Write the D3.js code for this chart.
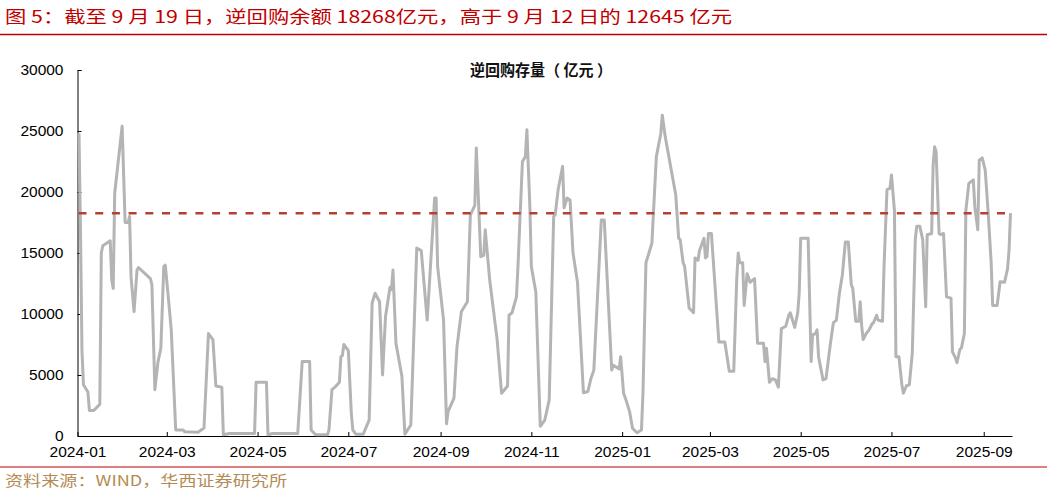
<!DOCTYPE html>
<html>
<head>
<meta charset="utf-8">
<script src="https://cdn.jsdelivr.net/npm/d3@7"></script>
<style>
  body { margin: 0; background: #fff; }
  svg { display: block; font-family: "Liberation Sans", Arial, "Noto Sans CJK SC", sans-serif; }
</style>
</head>
<body>
<div id="chart"></div>
<script>
// reverse repo balance, 100m yuan
const dates = [
  "2024-01-02","2024-01-03","2024-01-04","2024-01-05","2024-01-08","2024-01-09","2024-01-12","2024-01-16","2024-01-17","2024-01-18",
  "2024-01-23","2024-01-24","2024-01-25","2024-01-26","2024-01-31","2024-02-02","2024-02-04","2024-02-05","2024-02-06","2024-02-08",
  "2024-02-10","2024-02-11","2024-02-19","2024-02-20","2024-02-22","2024-02-24","2024-02-26","2024-02-28","2024-02-29","2024-03-02",
  "2024-03-04","2024-03-07","2024-03-12","2024-03-13","2024-03-22","2024-03-26","2024-03-29","2024-04-01","2024-04-03","2024-04-07",
  "2024-04-08","2024-04-12","2024-04-29","2024-04-30","2024-05-07","2024-05-08","2024-05-11","2024-05-28","2024-05-31","2024-06-05",
  "2024-06-06","2024-06-09","2024-06-17","2024-06-18","2024-06-20","2024-06-22","2024-06-25","2024-06-26","2024-06-27","2024-06-28",
  "2024-07-01","2024-07-03","2024-07-04","2024-07-06","2024-07-11","2024-07-15","2024-07-17","2024-07-19","2024-07-22","2024-07-24",
  "2024-07-26","2024-07-29","2024-07-30","2024-07-31","2024-08-02","2024-08-06","2024-08-08","2024-08-12","2024-08-16","2024-08-19",
  "2024-08-23","2024-08-26","2024-08-28","2024-08-29","2024-08-30","2024-09-03","2024-09-05","2024-09-06","2024-09-10","2024-09-12",
  "2024-09-15","2024-09-19","2024-09-21","2024-09-24","2024-09-25","2024-09-28","2024-09-30","2024-10-01","2024-10-04","2024-10-09",
  "2024-10-12","2024-10-16","2024-10-17","2024-10-19","2024-10-22","2024-10-23","2024-10-26","2024-10-28","2024-10-29","2024-10-31",
  "2024-11-01","2024-11-04","2024-11-07","2024-11-10","2024-11-13","2024-11-16","2024-11-17","2024-11-19","2024-11-22","2024-11-23",
  "2024-11-25","2024-11-27","2024-11-29","2024-12-02","2024-12-06","2024-12-09","2024-12-11","2024-12-13","2024-12-18","2024-12-20",
  "2024-12-25","2024-12-26","2024-12-30","2024-12-31","2025-01-02","2025-01-04","2025-01-06","2025-01-08","2025-01-11","2025-01-14",
  "2025-01-15","2025-01-17","2025-01-21","2025-01-24","2025-01-27","2025-01-28","2025-01-30","2025-02-06","2025-02-07","2025-02-08",
  "2025-02-09","2025-02-11","2025-02-12","2025-02-15","2025-02-18","2025-02-19","2025-02-21","2025-02-22","2025-02-25","2025-02-26",
  "2025-02-27","2025-02-28","2025-03-02","2025-03-06","2025-03-07","2025-03-11","2025-03-14","2025-03-17","2025-03-19","2025-03-20",
  "2025-03-21","2025-03-23","2025-03-24","2025-03-26","2025-03-28","2025-03-31","2025-04-02","2025-04-06","2025-04-07","2025-04-08",
  "2025-04-10","2025-04-12","2025-04-14","2025-04-16","2025-04-18","2025-04-21","2025-04-23","2025-04-24","2025-04-27","2025-04-29",
  "2025-04-30","2025-05-01","2025-05-06","2025-05-08","2025-05-09","2025-05-11","2025-05-12","2025-05-13","2025-05-16","2025-05-18",
  "2025-05-21","2025-05-23","2025-05-25","2025-05-27","2025-05-29","2025-05-31","2025-06-02","2025-06-04","2025-06-05","2025-06-07",
  "2025-06-09","2025-06-10","2025-06-11","2025-06-12","2025-06-14","2025-06-16","2025-06-18","2025-06-19","2025-06-21","2025-06-22",
  "2025-06-25","2025-06-26","2025-06-28","2025-06-30","2025-07-01","2025-07-03","2025-07-04","2025-07-06","2025-07-08","2025-07-09",
  "2025-07-11","2025-07-13","2025-07-15","2025-07-17","2025-07-18","2025-07-20","2025-07-22","2025-07-24","2025-07-25","2025-07-28",
  "2025-07-29","2025-07-30","2025-07-31","2025-08-02","2025-08-03","2025-08-05","2025-08-07","2025-08-10","2025-08-11","2025-08-13",
  "2025-08-14","2025-08-16","2025-08-17","2025-08-19","2025-08-20","2025-08-22","2025-08-25","2025-08-26","2025-08-28","2025-08-29",
  "2025-08-31","2025-09-02","2025-09-04","2025-09-06","2025-09-07","2025-09-10","2025-09-12","2025-09-15","2025-09-17","2025-09-18",
  "2025-09-19"
];
const balance = [
  24800,17000,7000,4200,3600,2100,2100,2600,15000,15600,
  16000,12800,12100,19900,25400,17500,17500,18000,13000,10200,
  13600,13800,12900,12400,3800,6000,7200,13900,14000,11400,
  8700,500,500,350,300,650,8400,7900,4100,4000,
  100,200,200,4400,4400,100,200,200,6100,6100,
  500,100,100,500,3800,4000,4400,6500,6600,7500,
  7000,1900,500,150,150,1300,10900,11700,11000,5000,
  9800,12200,12000,13600,7600,4900,150,900,15400,15200,
  9500,15500,19500,19500,13900,9500,1000,2000,3100,7300,
  10200,11000,18100,18900,23600,14700,14800,16900,12800,7900,
  3500,4100,9900,10100,11400,13900,22500,22900,25100,18800,
  13900,11800,800,1300,2950,18000,18100,20200,22100,18700,
  19500,19350,15000,12600,3550,3650,4700,5400,17700,17700,
  5400,5800,5500,6500,3500,2800,2000,630,270,500,
  3500,14200,15800,22900,24800,26300,24500,19800,18000,16200,
  16100,14200,13900,10500,10100,14600,14400,15200,16200,14600,
  14700,16600,16600,9500,7700,7700,5300,5300,12800,15000,
  14200,14200,10700,13300,12600,12900,7600,7600,6100,7200,
  4400,4700,4600,4000,8800,9000,9900,10100,8900,10100,
  11700,16200,16200,6100,8300,8400,8700,6500,4600,4700,
  7600,9300,9500,11700,13200,15900,15900,12400,12100,9400,
  9400,11000,9000,7900,8400,8700,9200,9300,9900,9500,
  9400,13900,20200,20300,21400,18500,6500,6500,4200,3500,
  4100,4200,6800,16100,17200,17200,16100,10600,16500,16600,
  22200,23700,23300,16600,16500,16600,11400,11300,6900,6400,
  6000,7100,7200,8400,18500,20700,21000,18800,16900,22600,
  22800,21800,18300,14200,10700,10700,12645,12600,13700,15200,
  18268
];
const latest = 18268;
const yTicks = [0, 5000, 10000, 15000, 20000, 25000, 30000];
const xTicks = ["2024-01","2024-03","2024-05","2024-07","2024-09","2024-11","2025-01","2025-03","2025-05","2025-07","2025-09"];

const width = 1053, height = 495;
const parseDay = d3.timeParse("%Y-%m-%d"),
      parseMonth = d3.timeParse("%Y-%m");

const data = dates.map((d, i) => ({ date: parseDay(d), value: balance[i] }));

const x = d3.scaleTime()
  .domain([parseDay("2024-01-01"), parseDay("2025-09-20")])
  .range([77.5, 1012]);
const y = d3.scaleLinear().domain([0, 30000]).range([436, 70]);

const svg = d3.select("#chart").append("svg")
  .attr("width", width)
  .attr("height", height);

// figure title + red rule
svg.append("text")
  .text("图 5：截至 9 月 19 日，逆回购余额 18268亿元，高于 9 月 12 日的 12645 亿元")
  .attr("x", 5)
  .attr("y", 23)
  .attr("textLength", 727)
  .attr("lengthAdjust", "spacingAndGlyphs")
  .style("font-family", "'Noto Sans CJK SC', sans-serif")
  .style("font-size", "17px")
  .style("fill", "#c00000");

svg.append("line")
  .attr("x1", 0).attr("x2", 1047)
  .attr("y1", 34.5).attr("y2", 34.5)
  .style("stroke", "#c00000")
  .style("stroke-width", 1.5);

// chart title
svg.append("text")
  .text("逆回购存量（ 亿元 ）")
  .attr("x", 541)
  .attr("y", 76)
  .attr("text-anchor", "middle")
  .attr("textLength", 142)
  .attr("lengthAdjust", "spacingAndGlyphs")
  .style("font-family", "'Noto Sans CJK SC', sans-serif")
  .style("font-weight", "bold")
  .style("font-size", "15.5px")
  .style("fill", "#111");

// axes
const yAxis = d3.axisLeft(y).tickValues(yTicks).tickFormat(d3.format("d"))
  .tickSizeInner(-4).tickSizeOuter(-4).tickPadding(14);
const xAxis = d3.axisBottom(x).tickValues(xTicks.map(parseMonth))
  .tickFormat(d3.timeFormat("%Y-%m")).tickSizeInner(-4).tickSizeOuter(0).tickPadding(10);

const gy = svg.append("g")
  .attr("transform", "translate(77.5,0)")
  .call(yAxis);
const gx = svg.append("g")
  .attr("transform", "translate(0,436)")
  .call(xAxis);

[gx, gy].forEach(g => {
  g.selectAll("path, line").style("stroke", "#000").style("stroke-width", 1);
  g.selectAll("text").style("font-size", "15.5px").style("fill", "#000")
    .style("font-family", "'Liberation Sans', Arial, sans-serif");
});

// balance line
const line = d3.line()
  .x(d => x(d.date))
  .y(d => y(d.value));

svg.append("path")
  .datum(data)
  .attr("d", line)
  .style("fill", "none")
  .style("stroke", "#b4b4b4")
  .style("stroke-width", 3)
  .style("stroke-linejoin", "round");

// latest level dashed
svg.append("line")
  .attr("x1", x.range()[0] + 1).attr("x2", x(parseDay(dates[dates.length - 1])))
  .attr("y1", y(latest)).attr("y2", y(latest))
  .style("stroke", "#b5402f")
  .style("stroke-width", 2.5)
  .style("stroke-dasharray", "8,8.7");

// source
svg.append("line")
  .attr("x1", 0).attr("x2", 1047)
  .attr("y1", 467).attr("y2", 467)
  .style("stroke", "#c00000")
  .style("stroke-width", 1.2);

svg.append("text")
  .text("资料来源：WIND，华西证券研究所")
  .attr("x", 5)
  .attr("y", 486)
  .attr("textLength", 282)
  .attr("lengthAdjust", "spacingAndGlyphs")
  .style("font-family", "'Noto Sans CJK SC', sans-serif")
  .style("font-size", "15px")
  .style("fill", "#b38c55");
</script>
</body>
</html>
